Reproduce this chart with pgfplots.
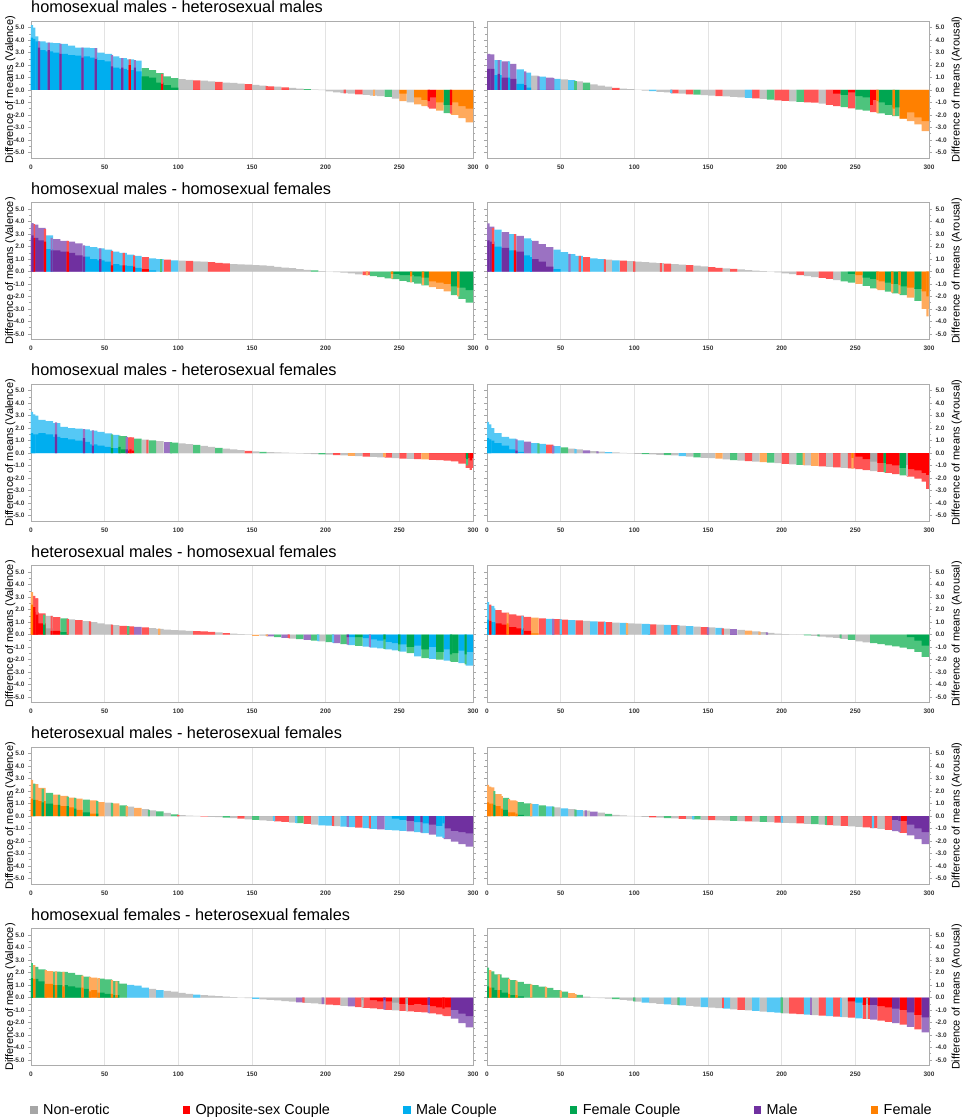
\documentclass[border=0pt]{standalone}
\usepackage{fontspec}
\setmainfont{Liberation Sans}
\usepackage{pgfplots}
\usepackage{pgfplotstable}
\pgfplotsset{compat=1.18}

\definecolor{L0}{HTML}{C2C2C2}\definecolor{D0}{HTML}{A6A6A6}
\definecolor{L1}{HTML}{FF5555}\definecolor{D1}{HTML}{FF0000}
\definecolor{L2}{HTML}{55C8F5}\definecolor{D2}{HTML}{00AEEF}
\definecolor{L3}{HTML}{4DC47D}\definecolor{D3}{HTML}{00A651}
\definecolor{L4}{HTML}{9B72C2}\definecolor{D4}{HTML}{7030A0}
\definecolor{L5}{HTML}{FFAA5C}\definecolor{D5}{HTML}{FF8000}

% ---------- panel 1: homo M - hetero M, valence ----------
\pgfplotstableread{
x y d c
2.5 4.3 3.9 2
7.5 3.9 3.2 2
12.5 3.8 3.1 2
17.5 3.75 3.0 2
22.5 3.7 2.9 2
27.5 3.55 2.8 2
32.5 3.4 2.75 2
37.5 3.4 2.7 2
42.5 3.35 2.6 2
47.5 3.0 2.4 2
52.5 2.9 2.3 2
57.5 2.7 1.8 2
62.5 2.55 1.7 2
67.5 2.45 1.6 2
72.5 2.35 1.5 2
77.5 1.75 1.1 3
82.5 1.6 1.0 3
87.5 1.35 0.6 3
92.5 1.1 0.4 3
97.5 0.95 0.2 3
102.5 0.88 0 0
107.5 0.82 0 0
112.5 0.78 0 1
117.5 0.75 0 0
122.5 0.7 0 0
127.5 0.65 0 1
132.5 0.6 0 0
137.5 0.58 0 0
142.5 0.52 0 0
147.5 0.47 0 1
152.5 0.42 0 0
157.5 0.36 0 0
162.5 0.3 0 1
167.5 0.27 0 0
172.5 0.22 0 1
177.5 0.17 0 0
182.5 0.12 0 0
187.5 0.07 0 3
192.5 0.03 0 0
197.5 -0.02 0 0
202.5 -0.12 0 0
207.5 -0.2 0 0
212.5 -0.26 0 0
217.5 -0.3 0 0
222.5 -0.36 0 1
227.5 -0.4 0 0
232.5 -0.45 0 0
237.5 -0.5 0 0
242.5 -0.55 0 3
247.5 -0.7 0 0
252.5 -0.9 -0.3 5
257.5 -1.0 0 0
262.5 -1.15 -0.6 5
267.5 -1.3 -0.8 5
272.5 -1.5 -0.6 1
277.5 -1.65 -1.0 5
282.5 -1.85 -1.2 3
287.5 -2.0 -1.0 5
292.5 -2.25 -1.3 5
297.5 -2.6 -1.5 5
}\TPa
\pgfplotstableread{
x y d c
0.75 5.2 4.2 2
2.25 5.0 4.1 2
5.5 3.9 3.4 4
12 3.8 3.2 4
20 3.7 2.9 4
35 3.4 2.6 4
44 3.35 2.5 4
55 2.8 1.9 4
62 2.55 1.8 4
67 2.45 2.0 1
70.5 2.4 1.8 4
89 1.3 0.5 1
160 0.32 0 1
213 -0.27 0 1
233 -0.45 0 5
270 -1.4 -0.9 1
285 -1.9 -1.2 1
}\TSa
% ---------- panel 2: homo M - hetero M, arousal ----------
\pgfplotstableread{
x y d c
2.5 2.85 1.7 4
7.5 2.4 1.2 2
12.5 2.3 1.0 4
17.5 2.1 0.9 4
22.5 1.65 0.5 2
27.5 1.4 0.2 2
32.5 1.15 0 0
37.5 1.08 0 2
42.5 1.0 0 4
47.5 0.9 0 2
52.5 0.85 0 0
57.5 0.8 0 2
62.5 0.7 0 0
67.5 0.6 0 3
72.5 0.45 0 0
77.5 0.35 0 0
82.5 0.28 0 0
87.5 0.18 0 1
92.5 0.12 0 0
97.5 0.06 0 0
102.5 0.01 0 0
107.5 -0.05 0 0
112.5 -0.1 0 2
117.5 -0.15 0 0
122.5 -0.2 0 0
127.5 -0.27 0 1
132.5 -0.3 0 0
137.5 -0.35 0 1
142.5 -0.38 0 3
147.5 -0.42 0 0
152.5 -0.45 0 0
157.5 -0.5 0 1
162.5 -0.52 0 0
167.5 -0.56 0 0
172.5 -0.6 0 0
177.5 -0.63 0 2
182.5 -0.68 0 1
187.5 -0.72 0 0
192.5 -0.78 0 3
197.5 -0.83 0 1
202.5 -0.88 0 1
207.5 -0.92 0 0
212.5 -0.96 0 3
217.5 -1.0 0 1
222.5 -1.02 0 1
227.5 -1.1 0 0
232.5 -1.2 0 1
237.5 -1.3 -0.3 1
242.5 -1.38 -0.4 3
247.5 -1.48 -0.2 1
252.5 -1.58 -0.5 3
257.5 -1.65 -0.6 3
262.5 -1.78 -0.8 1
267.5 -1.88 -1.0 3
272.5 -2.0 -1.2 3
277.5 -2.1 -1.4 3
282.5 -2.3 -2.3 5
287.5 -2.5 -1.8 5
292.5 -2.75 -2.2 5
297.5 -3.3 -2.5 5
}\TPb
\pgfplotstableread{
x y d c
1.5 2.9 1.7 4
8 2.4 1.3 4
15 2.3 1.0 2
26 1.5 0.4 4
35 1.1 0 4
45 0.95 0 4
60 0.75 0 3
125 -0.25 0 2
261 -1.75 -1.2 1
265 -1.85 -0.9 5
276 -2.05 -1.5 5
}\TSb
% ---------- panel 3: homo M - homo F, valence ----------
\pgfplotstableread{
x y d c
2.5 3.75 2.7 4
7.5 3.5 2.5 4
12.5 2.9 1.8 2
17.5 2.6 1.7 4
22.5 2.45 1.6 4
27.5 2.4 1.5 4
32.5 2.25 1.3 4
37.5 2.05 1.2 2
42.5 1.95 1.0 2
47.5 1.85 0.9 2
52.5 1.75 0.8 2
57.5 1.6 0.6 2
62.5 1.5 0.5 2
67.5 1.35 0.45 2
72.5 1.25 0.3 2
77.5 1.15 0.2 1
82.5 1.05 0.1 2
87.5 1.0 0 2
92.5 0.95 0 1
97.5 0.9 0 2
102.5 0.87 0 0
107.5 0.85 0 1
112.5 0.82 0 0
117.5 0.8 0 0
122.5 0.75 0 1
127.5 0.7 0 1
132.5 0.65 0 1
137.5 0.6 0 0
142.5 0.57 0 0
147.5 0.55 0 0
152.5 0.52 0 0
157.5 0.5 0 0
162.5 0.45 0 0
167.5 0.38 0 0
172.5 0.32 0 0
177.5 0.27 0 0
182.5 0.2 0 0
187.5 0.14 0 0
192.5 0.1 0 3
197.5 0.04 0 0
202.5 -0.02 0 0
207.5 -0.06 0 0
212.5 -0.1 0 0
217.5 -0.16 0 0
222.5 -0.24 0 0
227.5 -0.3 0 1
232.5 -0.38 0 3
237.5 -0.45 0 3
242.5 -0.55 0 3
247.5 -0.62 -0.2 3
252.5 -0.75 -0.3 3
257.5 -0.85 -0.3 3
262.5 -0.98 -0.4 3
267.5 -1.12 -0.5 3
272.5 -1.25 -0.8 5
277.5 -1.4 -0.9 5
282.5 -1.6 -1.0 5
287.5 -1.9 -1.2 3
292.5 -2.2 -1.3 3
297.5 -2.5 -1.5 3
}\TPc
\pgfplotstableread{
x y d c
1 3.88 2.9 4
2 3.8 2.7 1
9.5 3.4 2.4 1
14 2.7 1.7 4
25 2.45 1.6 1
36 2.1 1.2 4
47 1.85 1.0 4
55 1.65 0.5 1
63 1.5 0.5 1
70 1.3 0.4 1
88 1.0 0 3
228 -0.32 0 5
245 -0.58 -0.2 5
258 -0.88 -0.4 5
266 -1.08 -0.5 5
290 -2.0 -1.3 5
}\TSc
% ---------- panel 4: homo M - homo F, arousal ----------
\pgfplotstableread{
x y d c
2.5 3.6 2.4 4
7.5 3.35 2.0 2
12.5 3.15 1.9 4
17.5 3.0 1.7 2
22.5 2.85 1.6 4
27.5 2.65 1.3 2
32.5 2.45 1.0 4
37.5 2.2 0.8 4
42.5 1.95 0.4 4
47.5 1.75 0.2 2
52.5 1.55 0 2
57.5 1.4 0 2
62.5 1.25 0 2
67.5 1.15 0 1
72.5 1.05 0 2
77.5 1.0 0 2
82.5 0.95 0 0
87.5 0.9 0 2
92.5 0.87 0 1
97.5 0.84 0 0
102.5 0.8 0 0
107.5 0.76 0 0
112.5 0.72 0 0
117.5 0.68 0 0
122.5 0.64 0 1
127.5 0.6 0 0
132.5 0.56 0 0
137.5 0.52 0 1
142.5 0.47 0 0
147.5 0.42 0 0
152.5 0.36 0 1
157.5 0.3 0 1
162.5 0.26 0 0
167.5 0.21 0 1
172.5 0.17 0 0
177.5 0.12 0 0
182.5 0.07 0 0
187.5 0.03 0 0
192.5 -0.02 0 0
197.5 -0.08 0 0
202.5 -0.15 0 0
207.5 -0.22 0 0
212.5 -0.3 0 1
217.5 -0.38 0 0
222.5 -0.45 0 0
227.5 -0.52 0 1
232.5 -0.6 0 1
237.5 -0.7 0 0
242.5 -0.8 0 3
247.5 -0.9 -0.2 3
252.5 -1.0 -0.3 5
257.5 -1.15 -0.5 3
262.5 -1.35 -0.6 3
267.5 -1.5 -0.8 5
272.5 -1.62 -0.9 3
277.5 -1.75 -1.0 3
282.5 -1.9 -1.2 3
287.5 -2.1 -1.3 5
292.5 -2.35 -1.4 3
297.5 -3.0 -1.6 5
}\TPd
\pgfplotstableread{
x y d c
1 3.85 2.5 4
4 3.5 2.2 1
19 3.0 1.7 1
30 2.55 1.2 2
56 1.42 0 4
63 1.25 0 1
80 0.98 0 1
100 0.82 0 1
118 0.68 0 1
265 -1.4 -0.7 5
275 -1.7 -1.0 5
280 -1.8 -1.1 5
299 -3.6 -2.0 5
}\TSd
% ---------- panel 5: homo M - hetero F, valence ----------
\pgfplotstableread{
x y d c
2.5 3.0 1.5 2
7.5 2.65 1.6 2
12.5 2.55 1.5 2
17.5 2.4 1.3 2
22.5 2.1 1.2 2
27.5 2.0 1.1 2
32.5 1.95 1.0 2
37.5 1.9 0.9 2
42.5 1.8 0.7 2
47.5 1.7 0.6 2
52.5 1.58 0.5 2
57.5 1.45 0.4 2
62.5 1.35 0.3 3
67.5 1.25 0.2 1
72.5 1.15 0 3
77.5 1.08 0 0
82.5 1.02 0 3
87.5 0.96 0 0
92.5 0.9 0 4
97.5 0.84 0 3
102.5 0.77 0 0
107.5 0.72 0 0
112.5 0.66 0 3
117.5 0.58 0 0
122.5 0.5 0 0
127.5 0.42 0 3
132.5 0.36 0 0
137.5 0.3 0 0
142.5 0.24 0 0
147.5 0.17 0 1
152.5 0.13 0 0
157.5 0.1 0 3
162.5 0.07 0 0
167.5 0.05 0 0
172.5 0.03 0 0
177.5 0.01 0 0
182.5 -0.02 0 0
187.5 -0.05 0 0
192.5 -0.08 0 0
197.5 -0.1 0 3
202.5 -0.13 0 0
207.5 -0.17 0 1
212.5 -0.2 0 0
217.5 -0.23 0 5
222.5 -0.26 0 0
227.5 -0.29 0 1
232.5 -0.32 0 0
237.5 -0.35 0 0
242.5 -0.38 0 1
247.5 -0.42 0 0
252.5 -0.45 0 1
257.5 -0.48 0 0
262.5 -0.5 0 1
267.5 -0.52 0 5
272.5 -0.55 0 1
277.5 -0.58 0 1
282.5 -0.62 0 1
287.5 -0.68 0 1
292.5 -0.85 0 1
297.5 -1.2 -0.4 1
}\TPe
\pgfplotstableread{
x y d c
0.75 3.29 1.6 2
2.25 3.1 1.5 2
17 2.45 1.5 4
36 1.92 1.2 4
42 1.82 0.6 4
55 1.5 0.4 3
60 1.4 0.5 3
65 1.3 0.3 4
67.5 1.25 0.3 1
79 1.05 0 1
95 0.87 0 3
240 -0.36 0 5
296 -1.0 -0.5 3
298.5 -1.35 -0.6 1
}\TSe
% ---------- panel 6: homo M - hetero F, arousal ----------
\pgfplotstableread{
x y d c
2.5 2.0 1.0 2
7.5 1.6 0.8 2
12.5 1.3 0.6 2
17.5 1.15 0.3 2
22.5 1.02 0.1 2
27.5 0.92 0 4
32.5 0.8 0 2
37.5 0.74 0 2
42.5 0.68 0 1
47.5 0.55 0 2
52.5 0.45 0 3
57.5 0.36 0 0
62.5 0.29 0 0
67.5 0.22 0 4
72.5 0.16 0 0
77.5 0.12 0 0
82.5 0.08 0 2
87.5 0.05 0 0
92.5 0.02 0 0
97.5 -0.02 0 0
102.5 -0.06 0 0
107.5 -0.09 0 3
112.5 -0.11 0 0
117.5 -0.14 0 0
122.5 -0.17 0 3
127.5 -0.2 0 0
132.5 -0.25 0 2
137.5 -0.3 0 0
142.5 -0.35 0 3
147.5 -0.39 0 0
152.5 -0.42 0 0
157.5 -0.46 0 5
162.5 -0.52 0 0
167.5 -0.57 0 3
172.5 -0.62 0 0
177.5 -0.66 0 1
182.5 -0.7 0 0
187.5 -0.73 0 5
192.5 -0.77 0 3
197.5 -0.82 0 0
202.5 -0.87 0 1
207.5 -0.91 0 0
212.5 -0.95 0 3
217.5 -1.0 0 0
222.5 -1.04 0 5
227.5 -1.08 0 1
232.5 -1.12 0 0
237.5 -1.16 0 1
242.5 -1.2 0 0
247.5 -1.23 0 1
252.5 -1.3 -0.3 1
257.5 -1.38 -0.5 1
262.5 -1.45 -0.7 0
267.5 -1.52 -0.8 1
272.5 -1.6 -0.9 1
277.5 -1.7 -1.0 1
282.5 -1.8 -1.2 3
287.5 -1.9 -1.3 1
292.5 -2.05 -1.4 1
297.5 -2.3 -1.6 1
}\TPf
\pgfplotstableread{
x y d c
0.75 2.5 1.2 2
2.25 2.3 1.1 2
20 1.1 0.2 4
35 0.77 0 3
45 0.6 0 4
60 0.32 0 2
75 0.14 0 4
215 -0.98 0 5
248 -1.25 -0.4 5
270 -1.55 -0.8 3
285 -1.85 -1.0 0
299 -2.9 -1.8 1
}\TSf
% ---------- panel 7: hetero M - homo F, valence ----------
\pgfplotstableread{
x y d c
2.5 2.9 1.8 1
7.5 1.7 0.9 1
12.5 1.5 0.5 0
17.5 1.4 0.3 1
22.5 1.3 0.2 3
27.5 1.22 0 0
32.5 1.15 0 1
37.5 1.08 0 0
42.5 1.0 0 0
47.5 0.9 0 0
52.5 0.82 0 0
57.5 0.76 0 0
62.5 0.7 0 1
67.5 0.66 0 1
72.5 0.62 0 4
77.5 0.58 0 1
82.5 0.52 0 0
87.5 0.46 0 0
92.5 0.4 0 0
97.5 0.36 0 0
102.5 0.33 0 0
107.5 0.3 0 0
112.5 0.28 0 1
117.5 0.25 0 1
122.5 0.22 0 1
127.5 0.17 0 0
132.5 0.12 0 1
137.5 0.08 0 0
142.5 0.04 0 0
147.5 0.01 0 0
152.5 -0.04 0 5
157.5 -0.08 0 0
162.5 -0.14 0 4
167.5 -0.2 0 3
172.5 -0.27 0 4
177.5 -0.33 0 0
182.5 -0.38 0 3
187.5 -0.44 0 4
192.5 -0.5 0 3
197.5 -0.56 0 0
202.5 -0.62 0 3
207.5 -0.7 0 4
212.5 -0.78 0 3
217.5 -0.85 -0.2 2
222.5 -0.92 -0.2 3
227.5 -0.98 -0.3 2
232.5 -1.05 -0.4 2
237.5 -1.12 -0.5 2
242.5 -1.2 -0.6 2
247.5 -1.28 -0.7 2
252.5 -1.38 -0.8 2
257.5 -1.5 -1.0 3
262.5 -1.75 -0.9 2
267.5 -1.9 -1.2 3
272.5 -1.95 -1.0 2
277.5 -2.02 -1.4 3
282.5 -2.1 -1.2 2
287.5 -2.2 -1.5 3
292.5 -2.3 -1.3 2
297.5 -2.5 -1.4 2
}\TPg
\pgfplotstableread{
x y d c
0.75 3.4 2.4 5
2.25 3.1 2.2 1
4 2.9 1.6 1
9 1.6 0.8 3
14 1.5 0.3 1
25 1.25 0 1
40 1.05 0 1
55 0.8 0 1
66 0.68 0 3
87 0.47 0 5
160 -0.12 0 5
175 -0.3 0 1
195 -0.53 0 2
205 -0.66 0 2
215 -0.82 -0.2 4
230 -1.02 0 4
240 -1.16 -0.4 3
250 -1.33 -0.8 3
285 -2.15 -1.6 3
295 -2.4 -1.6 3
}\TSg
% ---------- panel 8: hetero M - homo F, arousal ----------
\pgfplotstableread{
x y d c
2.5 2.3 1.0 2
7.5 1.95 0.9 1
12.5 1.75 0.8 1
17.5 1.62 0.6 1
22.5 1.52 0.5 1
27.5 1.42 0.3 1
32.5 1.35 0.1 5
37.5 1.3 0 1
42.5 1.26 0 2
47.5 1.24 0 1
52.5 1.2 0 1
57.5 1.16 0 2
62.5 1.13 0 1
67.5 1.1 0 0
72.5 1.06 0 2
77.5 1.03 0 1
82.5 1.0 0 1
87.5 0.96 0 0
92.5 0.93 0 2
97.5 0.9 0 0
102.5 0.87 0 0
107.5 0.85 0 2
112.5 0.82 0 1
117.5 0.8 0 0
122.5 0.78 0 2
127.5 0.75 0 1
132.5 0.72 0 0
137.5 0.68 0 2
142.5 0.64 0 0
147.5 0.6 0 1
152.5 0.57 0 0
157.5 0.53 0 2
162.5 0.48 0 0
167.5 0.43 0 4
172.5 0.38 0 0
177.5 0.32 0 5
182.5 0.26 0 0
187.5 0.2 0 0
192.5 0.14 0 0
197.5 0.08 0 0
202.5 0.04 0 0
207.5 0.01 0 0
212.5 -0.03 0 0
217.5 -0.07 0 3
222.5 -0.11 0 0
227.5 -0.16 0 0
232.5 -0.22 0 0
237.5 -0.28 0 0
242.5 -0.36 0 0
247.5 -0.44 0 3
252.5 -0.55 0 0
257.5 -0.63 0 0
262.5 -0.7 0 3
267.5 -0.78 0 3
272.5 -0.87 0 3
277.5 -0.95 0 3
282.5 -1.05 0 3
287.5 -1.18 -0.2 3
292.5 -1.4 -0.5 3
297.5 -1.8 -0.9 3
}\TPh
\pgfplotstableread{
x y d c
0.75 2.6 1.2 2
2.25 2.4 1.1 1
5 2.1 1.0 2
14 1.72 0.9 5
24 1.5 0.4 2
45 1.25 0 4
50 1.22 0 2
80 1.02 0 2
95 0.91 0 5
110 0.83 0 2
130 0.74 0 2
150 0.58 0 4
160 0.5 0 1
185 0.23 0 5
190 0.17 0 4
225 -0.14 0 3
240 -0.32 0 3
}\TSh
% ---------- panel 9: hetero M - hetero F, valence ----------
\pgfplotstableread{
x y d c
2.5 2.55 1.3 5
7.5 2.25 1.2 5
12.5 1.85 1.0 3
17.5 1.72 0.9 5
22.5 1.62 0.8 5
27.5 1.48 0.7 5
32.5 1.4 0.5 5
37.5 1.32 0.3 3
42.5 1.25 0.2 5
47.5 1.12 0 5
52.5 1.07 0 0
57.5 1.02 0 5
62.5 0.85 0 3
67.5 0.75 0 0
72.5 0.65 0 5
77.5 0.55 0 0
82.5 0.45 0 0
87.5 0.37 0 3
92.5 0.25 0 0
97.5 0.14 0 3
102.5 0.07 0 0
107.5 0.03 0 0
112.5 0.01 0 0
117.5 -0.03 0 1
122.5 -0.06 0 0
127.5 -0.09 0 0
132.5 -0.12 0 3
137.5 -0.16 0 0
142.5 -0.21 0 1
147.5 -0.26 0 0
152.5 -0.3 0 3
157.5 -0.34 0 0
162.5 -0.38 0 0
167.5 -0.43 0 1
172.5 -0.48 0 1
177.5 -0.53 0 0
182.5 -0.58 0 3
187.5 -0.64 0 1
192.5 -0.7 0 0
197.5 -0.75 0 2
202.5 -0.78 0 2
207.5 -0.82 0 0
212.5 -0.86 0 2
217.5 -0.9 0 2
222.5 -0.94 0 1
227.5 -0.98 0 2
232.5 -1.03 0 2
237.5 -1.08 0 4
242.5 -1.12 0 2
247.5 -1.16 -0.2 2
252.5 -1.2 -0.3 2
257.5 -1.24 -0.4 4
262.5 -1.3 -0.5 2
267.5 -1.38 -0.6 2
272.5 -1.5 -0.7 4
277.5 -1.65 -0.8 2
282.5 -1.85 -1.0 4
287.5 -2.05 -1.2 4
292.5 -2.25 -1.3 4
297.5 -2.45 -1.4 4
}\TPi
\pgfplotstableread{
x y d c
0.75 2.9 1.4 5
2.25 2.6 1.3 3
8 2.2 1.1 3
19 1.7 0.9 3
25 1.55 0.8 3
30 1.45 0.6 3
45 1.2 0.2 3
55 1.05 0 3
65 0.8 0 5
80 0.5 0 3
100 0.1 0 1
165 -0.4 0 2
180 -0.55 0 2
205 -0.8 0 1
215 -0.88 0 4
230 -1.0 0 1
265 -1.33 -0.5 4
280 -1.75 -0.6 2
}\TSi
% ---------- panel 10: hetero M - hetero F, arousal ----------
\pgfplotstableread{
x y d c
2.5 2.3 1.0 5
7.5 1.75 0.8 5
12.5 1.45 0.5 3
17.5 1.25 0.3 5
22.5 1.12 0.1 3
27.5 1.02 0 3
32.5 0.95 0 2
37.5 0.86 0 3
42.5 0.78 0 2
47.5 0.7 0 0
52.5 0.62 0 2
57.5 0.55 0 0
62.5 0.48 0 2
67.5 0.43 0 0
72.5 0.35 0 4
77.5 0.27 0 0
82.5 0.18 0 3
87.5 0.1 0 0
92.5 0.06 0 0
97.5 0.02 0 0
102.5 -0.02 0 0
107.5 -0.06 0 0
112.5 -0.1 0 1
117.5 -0.13 0 0
122.5 -0.16 0 3
127.5 -0.19 0 0
132.5 -0.22 0 1
137.5 -0.25 0 0
142.5 -0.27 0 3
147.5 -0.3 0 0
152.5 -0.32 0 1
157.5 -0.35 0 0
162.5 -0.37 0 0
167.5 -0.39 0 3
172.5 -0.41 0 0
177.5 -0.43 0 1
182.5 -0.46 0 0
187.5 -0.48 0 3
192.5 -0.5 0 0
197.5 -0.53 0 1
202.5 -0.55 0 0
207.5 -0.58 0 0
212.5 -0.6 0 1
217.5 -0.63 0 0
222.5 -0.66 0 3
227.5 -0.7 0 0
232.5 -0.74 0 1
237.5 -0.77 0 0
242.5 -0.8 0 1
247.5 -0.84 0 0
252.5 -0.88 0 0
257.5 -0.92 0 1
262.5 -0.97 0 1
267.5 -1.03 0 0
272.5 -1.12 0 1
277.5 -1.22 -0.3 4
282.5 -1.35 -0.4 1
287.5 -1.55 -0.7 4
292.5 -1.85 -1.0 4
297.5 -2.25 -1.3 4
}\TPj
\pgfplotstableread{
x y d c
0.75 2.5 1.1 5
2.25 2.35 1.0 5
5 2.0 0.9 3
10 1.6 0.6 5
15 1.35 0.3 5
20 1.2 0.2 5
30 1.0 0 5
45 0.75 0 3
60 0.52 0 3
67 0.45 0 4
140 -0.26 0 2
200 -0.54 0 2
230 -0.72 0 3
262 -0.97 0 2
280 -1.3 -0.4 4
}\TSj
% ---------- panel 11: homo F - hetero F, valence ----------
\pgfplotstableread{
x y d c
2.5 2.45 1.5 3
7.5 2.25 1.3 3
12.5 2.12 1.1 5
17.5 2.08 1.0 3
22.5 2.05 1.0 3
27.5 1.98 0.9 3
32.5 1.82 0.8 3
37.5 1.68 0.7 3
42.5 1.6 0.6 5
47.5 1.52 0.4 3
52.5 1.45 0.3 3
57.5 1.32 0.2 3
62.5 1.12 0 3
67.5 1.02 0 2
72.5 0.95 0 2
77.5 0.8 0 2
82.5 0.7 0 0
87.5 0.6 0 2
92.5 0.54 0 0
97.5 0.48 0 0
102.5 0.38 0 0
107.5 0.3 0 0
112.5 0.24 0 2
117.5 0.2 0 0
122.5 0.15 0 0
127.5 0.11 0 0
132.5 0.08 0 0
137.5 0.04 0 0
142.5 -0.01 0 0
147.5 -0.05 0 0
152.5 -0.1 0 2
157.5 -0.14 0 0
162.5 -0.18 0 0
167.5 -0.23 0 0
172.5 -0.28 0 0
177.5 -0.33 0 0
182.5 -0.38 0 4
187.5 -0.42 0 0
192.5 -0.47 0 0
197.5 -0.52 0 0
202.5 -0.57 0 1
207.5 -0.62 0 1
212.5 -0.67 0 0
217.5 -0.72 0 4
222.5 -0.77 0 1
227.5 -0.83 0 1
232.5 -0.88 -0.2 1
237.5 -0.94 -0.3 1
242.5 -1.0 -0.3 1
247.5 -1.04 -0.4 0
252.5 -1.08 -0.5 1
257.5 -1.12 -0.6 1
262.5 -1.15 -0.5 1
267.5 -1.2 -0.6 1
272.5 -1.27 -0.7 1
277.5 -1.35 -0.8 1
282.5 -1.5 -0.8 1
287.5 -1.7 -1.0 4
292.5 -2.05 -1.3 4
297.5 -2.4 -1.5 4
}\TPk
\pgfplotstableread{
x y d c
0.75 2.75 1.6 3
2.25 2.6 1.5 5
10 2.2 1.1 5
17 2.1 1.0 5
22 2.05 0.9 5
35 1.75 0.8 5
40 1.65 0.5 5
46 1.55 0.4 5
55 1.4 0.3 5
58 1.3 0.2 5
185 -0.4 0 1
198 -0.52 0 4
225 -0.8 -0.2 0
240 -0.97 -0.2 4
255 -1.1 -0.5 0
270 -1.25 -0.6 4
280 -1.45 -0.9 1
}\TSk
% ---------- panel 12: homo F - hetero F, arousal ----------
\pgfplotstableread{
x y d c
2.5 2.1 0.8 3
7.5 1.85 0.6 3
12.5 1.6 0.4 3
17.5 1.4 0.2 3
22.5 1.25 0.1 3
27.5 1.1 0 3
32.5 1.0 0 3
37.5 0.88 0 3
42.5 0.78 0 3
47.5 0.6 0 3
52.5 0.48 0 3
57.5 0.35 0 5
62.5 0.22 0 3
67.5 0.08 0 0
72.5 -0.02 0 0
77.5 -0.05 0 0
82.5 -0.08 0 0
87.5 -0.12 0 3
92.5 -0.18 0 0
97.5 -0.25 0 0
102.5 -0.33 0 0
107.5 -0.4 0 2
112.5 -0.45 0 0
117.5 -0.5 0 0
122.5 -0.55 0 2
127.5 -0.6 0 0
132.5 -0.64 0 2
137.5 -0.68 0 0
142.5 -0.73 0 0
147.5 -0.78 0 2
152.5 -0.82 0 0
157.5 -0.86 0 0
162.5 -0.9 0 2
167.5 -0.95 0 0
172.5 -1.0 0 1
177.5 -1.04 0 0
182.5 -1.08 0 2
187.5 -1.13 0 0
192.5 -1.18 0 2
197.5 -1.22 0 2
202.5 -1.27 0 0
207.5 -1.3 0 1
212.5 -1.34 0 1
217.5 -1.37 0 2
222.5 -1.41 0 0
227.5 -1.45 0 1
232.5 -1.49 0 2
237.5 -1.53 0 1
242.5 -1.58 0 0
247.5 -1.62 -0.3 1
252.5 -1.67 -0.4 2
257.5 -1.72 -0.6 1
262.5 -1.78 -0.6 4
267.5 -1.85 -0.7 1
272.5 -1.95 -0.8 1
277.5 -2.05 -0.9 4
282.5 -2.18 -1.0 1
287.5 -2.35 -1.2 4
292.5 -2.55 -1.4 1
297.5 -2.8 -1.6 4
}\TPl
\pgfplotstableread{
x y d c
0.75 2.4 0.9 3
2.25 2.2 0.8 5
8 1.85 0.6 5
15 1.5 0.3 5
20 1.35 0.2 5
30 1.05 0 5
40 0.85 0 5
50 0.55 0 5
60 0.28 0 5
100 -0.3 0 3
130 -0.62 0 3
160 -0.88 0 1
200 -1.25 0 3
220 -1.4 0 4
240 -1.55 0 2
258 -1.73 -0.5 0
}\TSl

\pgfplotsset{
  panel/.style={
    scale only axis, width=442pt, height=137pt,
    xmin=0, xmax=300, ymin=-5.45, ymax=5.53,
    axis line style={draw=gray!65, line width=0.7pt},
    xtick={0,50,...,300}, xmajorgrids=true,
    major grid style={draw=gray!22, line width=0.7pt},
    xtick style={draw=none},
    ytick={-5,-4,...,5}, minor y tick num=1,
    ytick pos=both,
    tick align=outside,
    major tick length=3pt, minor tick length=2pt,
    ytick style={draw=gray!70, line width=0.5pt},
    ticklabel style={font=\fontsize{6.5}{7.5}\selectfont\bfseries, text=black!80},
    yticklabel style={/pgf/number format/.cd, fixed, fixed zerofill, precision=1, assume math mode=true},
    xticklabel style={/pgf/number format/assume math mode=true},
    title style={at={(axis description cs:0,1)}, anchor=base west, yshift=2.5pt, inner sep=0pt, font=\fontsize{16.3}{18}\selectfont},
  },
  lpanel/.style={panel, yticklabel pos=left, ylabel={Difference of means (Valence)},
    every axis y label/.style={at={(axis description cs:-0.047,0.5)}, rotate=90, anchor=center, font=\fontsize{11}{13}\selectfont}},
  rpanel/.style={panel, yticklabel pos=right, ylabel={Difference of means (Arousal)},
    every axis y label/.style={at={(axis description cs:1.063,0.5)}, rotate=90, anchor=center, font=\fontsize{11}{13}\selectfont}},
}

\newcommand{\drawpanel}[2]{%
  \pgfplotsinvokeforeach{0,...,5}{%
    \addplot[ybar, bar width=5, bar shift=0pt, draw=none, fill=L##1,
      restrict expr to domain={\thisrow{c}}{##1:##1}] table[x=x, y=y] {#1};
  }%
  \pgfplotsinvokeforeach{0,...,5}{%
    \addplot[ybar, bar width=5, bar shift=0pt, draw=none, fill=D##1,
      restrict expr to domain={\thisrow{c}}{##1:##1}] table[x=x, y=d] {#1};
  }%
  \pgfplotsinvokeforeach{0,...,5}{%
    \addplot[ybar, bar width=1.5, bar shift=0pt, draw=none, fill=L##1,
      restrict expr to domain={\thisrow{c}}{##1:##1}] table[x=x, y=y] {#2};
  }%
  \pgfplotsinvokeforeach{0,...,5}{%
    \addplot[ybar, bar width=1.5, bar shift=0pt, draw=none, fill=D##1,
      restrict expr to domain={\thisrow{c}}{##1:##1}] table[x=x, y=d] {#2};
  }%
}

\newcommand{\lp}[4]{%
  \begin{axis}[lpanel, at={(31pt,#1)}, anchor=north west, title={#2}]
    \drawpanel{#3}{#4}
  \end{axis}}
\newcommand{\rp}[3]{%
  \begin{axis}[rpanel, at={(487pt,#1)}, anchor=north west]
    \drawpanel{#2}{#3}
  \end{axis}}

\begin{document}
\begin{tikzpicture}
\useasboundingbox (0pt,0pt) rectangle (964pt,-1118pt);
\lp{-21pt}{homosexual males - heterosexual males}{\TPa}{\TSa}
\rp{-21pt}{\TPb}{\TSb}
\lp{-202.5pt}{homosexual males - homosexual females}{\TPc}{\TSc}
\rp{-202.5pt}{\TPd}{\TSd}
\lp{-384pt}{homosexual males - heterosexual females}{\TPe}{\TSe}
\rp{-384pt}{\TPf}{\TSf}
\lp{-565.5pt}{heterosexual males - homosexual females}{\TPg}{\TSg}
\rp{-565.5pt}{\TPh}{\TSh}
\lp{-747pt}{heterosexual males - heterosexual females}{\TPi}{\TSi}
\rp{-747pt}{\TPj}{\TSj}
\begin{axis}[lpanel, at={(31pt,-928.5pt)}, anchor=north west,
  title={homosexual females - heterosexual females},
  legend columns=6,
  legend image code/.code={\fill[#1] (0pt,-3.75pt) rectangle (7.5pt,3.75pt);},
  legend style={draw=none, fill=none, inner sep=0pt, outer sep=0pt,
    at={(axis description cs:-0.002,-0.325)}, anchor=west,
    font=\fontsize{14.4}{16}\selectfont, cells={anchor=west},
    /tikz/every odd column/.append style={column sep=3.5pt},
    /tikz/every even column/.append style={column sep=71pt}}]
  \addlegendimage{fill=D0, draw=none}
  \addlegendimage{fill=D1, draw=none}
  \addlegendimage{fill=D2, draw=none}
  \addlegendimage{fill=D3, draw=none}
  \addlegendimage{fill=D4, draw=none}
  \addlegendimage{fill=D5, draw=none}
  \legend{Non-erotic,Opposite-sex Couple,Male Couple,Female Couple,Male,Female}
  \drawpanel{\TPk}{\TSk}
\end{axis}
\rp{-928.5pt}{\TPl}{\TSl}
\end{tikzpicture}
\end{document}
